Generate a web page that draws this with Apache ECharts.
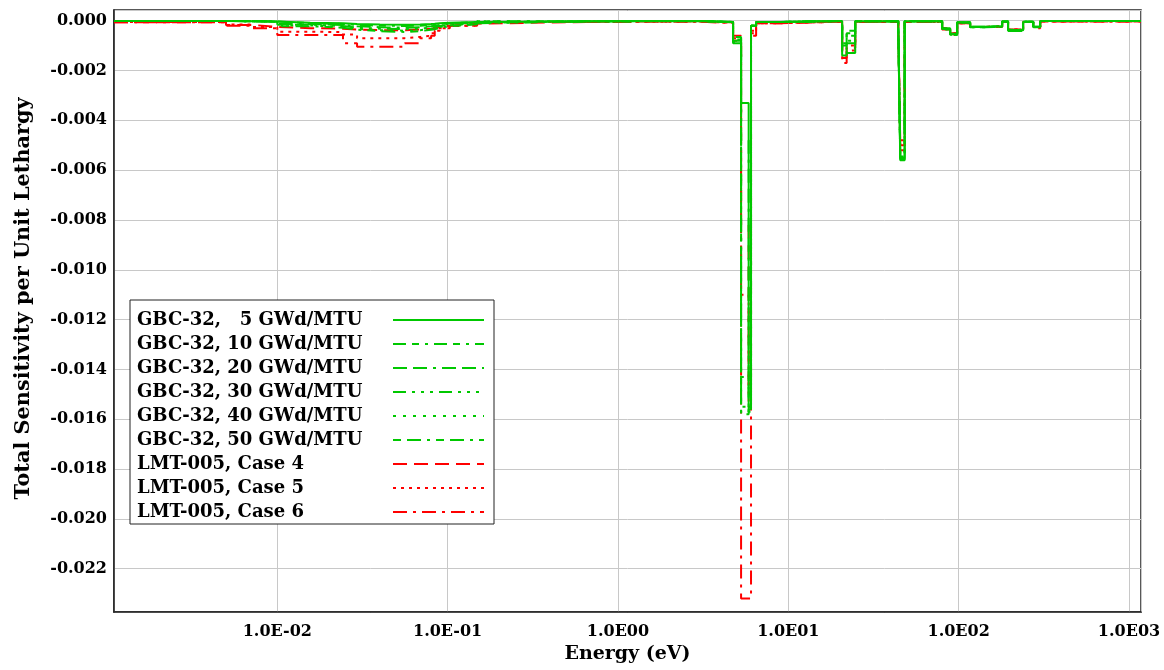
<!DOCTYPE html>
<html><head><meta charset="utf-8">
<script src="https://cdn.jsdelivr.net/npm/echarts@6/dist/echarts.min.js"></script>
<style>html,body{margin:0;padding:0;background:#fff}#c{width:1164px;height:670px}</style>
</head><body><div id="c"></div><script>
// Energy group boundaries (eV)
const energyBounds = [0.0011, 0.005, 0.0072, 0.01, 0.0156, 0.0243, 0.0294, 0.040, 0.056, 0.069, 0.080, 0.084, 0.090, 0.103, 0.149, 0.785, 3.03, 4.74, 5.28, 5.85, 6.04, 6.47, 8.95, 20.7, 22.0, 24.7, 44.2, 45.4, 48.2, 80.0, 89.1, 98.0, 116.8, 143, 180, 195, 239, 274, 301, 1176];

const seriesNames = ['GBC-32,   5 GWd/MTU','GBC-32, 10 GWd/MTU','GBC-32, 20 GWd/MTU','GBC-32, 30 GWd/MTU','GBC-32, 40 GWd/MTU','GBC-32, 50 GWd/MTU','LMT-005, Case 4','LMT-005, Case 5','LMT-005, Case 6'];

// Sensitivity per unit lethargy, one value per group
const gbc05 = [-0.00001,-0.00002,-0.00003,
 -0.00008,-0.00010,-0.00013,-0.00015,-0.00016,-0.00015,-0.00013,-0.00012,-0.00010,-0.00008,-0.00005,
 -0.00002,-0.00001,-0.00005,
 -0.0009,-0.0033,-0.0155,-0.0002,-0.00005,
 -0.00001,
 -0.0014,-0.0013,
 -0.00002,
 -0.0002,-0.0056,
 -0.00002,
 -0.0003,-0.00053,-0.00006,-0.00024,-0.00022,-0.00003,-0.00037,-0.00004,-0.00024,
 -0.00001];
const gbc10 = [-0.00001,-0.00002,-0.00003,
 -0.00010,-0.00013,-0.00017,-0.00020,-0.00021,-0.00020,-0.00017,-0.00015,-0.00013,-0.00010,-0.00006,
 -0.00002,-0.00001,-0.00005,
 -0.00085,-0.0158,-0.0150,-0.0002,-0.00005,
 -0.00001,
 -0.0013,-0.0009,
 -0.00002,
 -0.0002,-0.00555,
 -0.00002,
 -0.00031,-0.00052,-0.00006,-0.00024,-0.00022,-0.00003,-0.00036,-0.00004,-0.00024,
 -0.00001];
const gbc20 = [-0.00001,-0.00002,-0.00004,
 -0.00013,-0.00017,-0.00022,-0.00026,-0.00028,-0.00026,-0.00022,-0.00020,-0.00017,-0.00013,-0.00008,
 -0.00002,-0.00001,-0.00005,
 -0.0008,-0.0048,-0.0152,-0.0002,-0.00005,
 -0.00001,
 -0.0012,-0.0006,
 -0.00002,
 -0.0002,-0.0055,
 -0.00002,
 -0.00032,-0.00054,-0.00007,-0.00025,-0.00023,-0.00003,-0.00038,-0.00004,-0.00025,
 -0.00001];
const gbc30 = [-0.00001,-0.00002,-0.00004,
 -0.00016,-0.00021,-0.00028,-0.00032,-0.00034,-0.00032,-0.00028,-0.00025,-0.00021,-0.00016,-0.00010,
 -0.00002,-0.00001,-0.00006,
 -0.00075,-0.0143,-0.0148,-0.0002,-0.00005,
 -0.00001,
 -0.0011,-0.0004,
 -0.00002,
 -0.0002,-0.00545,
 -0.00002,
 -0.00033,-0.00055,-0.00007,-0.00025,-0.00023,-0.00003,-0.00039,-0.00004,-0.00025,
 -0.00001];
const gbc40 = [-0.00001,-0.00002,-0.00004,
 -0.00019,-0.00025,-0.00033,-0.00038,-0.00040,-0.00038,-0.00033,-0.00030,-0.00025,-0.00019,-0.00012,
 -0.00002,-0.00001,-0.00006,
 -0.0007,-0.0155,-0.0157,-0.0002,-0.00005,
 -0.00001,
 -0.0010,-0.0008,
 -0.00002,
 -0.0002,-0.0054,
 -0.00002,
 -0.00034,-0.00056,-0.00007,-0.00026,-0.00024,-0.00003,-0.00040,-0.00004,-0.00026,
 -0.00001];
const gbc50 = [-0.00001,-0.00002,-0.00004,
 -0.00022,-0.00028,-0.00036,-0.00042,-0.00045,-0.00042,-0.00036,-0.00034,-0.00028,-0.00022,-0.00014,
 -0.00002,-0.00001,-0.00006,
 -0.00065,-0.0157,-0.0156,-0.0002,-0.00005,
 -0.00001,
 -0.0009,-0.0005,
 -0.00002,
 -0.0002,-0.00535,
 -0.00002,
 -0.00035,-0.00057,-0.00007,-0.00026,-0.00024,-0.00003,-0.00041,-0.00004,-0.00026,
 -0.00001];
const lmtCase4 = [-0.00006,-0.00017,-0.00025,
 -0.00030,-0.00032,-0.00035,-0.00038,-0.00038,-0.00035,-0.00032,-0.00030,-0.00025,-0.00020,-0.00012,
 -0.00004,-0.00003,-0.00006,
 -0.0006,-0.0082,-0.0150,-0.0004,-0.0001,
 -0.00003,
 -0.0015,-0.0011,
 -0.00004,
 -0.0002,-0.0050,
 -0.00005,
 -0.0003,-0.0005,-0.0001,-0.00025,-0.00025,-0.00005,-0.00035,-0.00005,-0.00025,
 -0.00003];
const lmtCase5 = [-0.00005,-0.00015,-0.00025,
 -0.00044,-0.00046,-0.00055,-0.00070,-0.00070,-0.00065,-0.00060,-0.00050,-0.00040,-0.00030,-0.00020,
 -0.00005,-0.00004,-0.00008,
 -0.0007,-0.0110,-0.0155,-0.0005,-0.0001,
 -0.00004,
 -0.0012,-0.0010,
 -0.00005,
 -0.0002,-0.0052,
 -0.00005,
 -0.0003,-0.0005,-0.0001,-0.00025,-0.00025,-0.00005,-0.00035,-0.00005,-0.00025,
 -0.00003];
const lmtCase6 = [-0.00006,-0.00020,-0.00030,
 -0.00057,-0.00057,-0.00090,-0.00105,-0.00105,-0.00090,-0.00070,-0.00060,-0.00040,-0.00030,-0.00020,
 -0.00005,-0.00004,-0.00010,
 -0.0008,-0.0232,-0.0232,-0.0006,-0.0001,
 -0.00004,
 -0.0017,-0.0012,
 -0.00005,
 -0.0002,-0.0048,
 -0.00005,
 -0.00035,-0.00055,-0.0001,-0.00025,-0.0002,-0.00005,-0.00035,-0.00005,-0.0003,
 -0.00003];

const GREEN = '#00c800', RED = '#ff0000';
const FONT = 'DejaVu Serif';

function toSteps(vals) {
  const d = vals.map((v, i) => [energyBounds[i], v]);
  d.push([energyBounds[energyBounds.length - 1], vals[vals.length - 1]]);
  return d;
}

const defs = [
  {vals: gbc05, color: GREEN, type: 'solid'},
  {vals: gbc10, color: GREEN, type: [13, 6, 7, 6, 3, 6]},
  {vals: gbc20, color: GREEN, type: [14, 6, 14, 6, 3, 6]},
  {vals: gbc30, color: GREEN, type: [13, 6, 3, 6, 3, 6, 3, 6]},
  {vals: gbc40, color: GREEN, type: [3, 7]},
  {vals: gbc50, color: GREEN, type: [8, 6, 14, 6, 3, 6]},
  {vals: lmtCase4, color: RED, type: [14, 7]},
  {vals: lmtCase5, color: RED, type: [3, 5]},
  {vals: lmtCase6, color: RED, type: [14, 6, 3, 6]}
];

const series = defs.map((d, i) => ({
  name: seriesNames[i],
  type: 'line',
  step: 'end',
  symbol: 'none',
  z: d.color === GREEN ? 3 : 2,
  data: toSteps(d.vals),
  lineStyle: {color: d.color, width: 2, type: d.type},
  itemStyle: {color: d.color},
  emphasis: {disabled: true}
}));

function xFmt(v) {
  const l = Math.log10(v);
  const e = Math.round(l);
  if (Math.abs(l - e) > 0.01) return '';
  const a = Math.abs(e);
  return '1.0E' + (e < 0 ? '-' : '') + (a < 10 ? '0' + a : a);
}
function yFmt(v) {
  const k = Math.round(v / 0.002);
  if (Math.abs(v - k * 0.002) > 1e-7) return '';
  return (k * 0.002).toFixed(3);
}

const chart = echarts.init(document.getElementById('c'), null, {renderer: 'canvas'});
chart.setOption({
  animation: false,
  backgroundColor: '#fff',
  grid: {left: 114, right: 23, top: 10, bottom: 58, show: true, borderColor: '#222', borderWidth: 1.5},
  xAxis: {
    type: 'log', logBase: 10, min: 0.0011, max: 1176,
    name: 'Energy (eV)', nameLocation: 'middle', nameGap: 33,
    nameTextStyle: {fontFamily: FONT, fontSize: 19, fontWeight: 'bold', color: '#000'},
    axisLine: {show: true, onZero: false, lineStyle: {color: '#222', width: 1.5}},
    axisTick: {show: false}, minorTick: {show: false}, minorSplitLine: {show: false},
    axisLabel: {formatter: xFmt, margin: 12, fontFamily: FONT, fontSize: 16, fontWeight: 'bold', color: '#000'},
    splitLine: {show: true, lineStyle: {color: '#c8c8c8', width: 1}}
  },
  yAxis: {
    type: 'value', min: -0.02374, max: 0.00043, splitNumber: 12,
    name: 'Total Sensitivity per Unit Lethargy', nameLocation: 'middle', nameGap: 80,
    nameTextStyle: {fontFamily: FONT, fontSize: 20.8, fontWeight: 'bold', color: '#000', padding: [0, 0, 0, 25]},
    axisLine: {show: true, onZero: false, lineStyle: {color: '#222', width: 1.5}},
    axisTick: {show: false},
    axisLabel: {formatter: yFmt, margin: 7, fontFamily: FONT, fontSize: 16, fontWeight: 'bold', color: '#000'},
    splitLine: {show: true, lineStyle: {color: '#c8c8c8', width: 1}}
  },
  legend: {
    data: seriesNames,
    orient: 'vertical', left: 130, top: 300,
    align: 'right',
    backgroundColor: '#fff', borderColor: '#222', borderWidth: 1,
    padding: [11, 9, 3, 7],
    itemWidth: 91, itemHeight: 14, itemGap: 6,
    itemStyle: {opacity: 0},
    selectedMode: false,
    formatter: name => '{t|' + name + '}',
    textStyle: {
      fontFamily: FONT, fontSize: 18, fontWeight: 'bold', color: '#000', lineHeight: 18,
      rich: {t: {width: 251, align: 'left', fontFamily: FONT, fontSize: 18, fontWeight: 'bold', color: '#000', lineHeight: 18}}
    }
  },
  series: series
});
</script></body></html>
